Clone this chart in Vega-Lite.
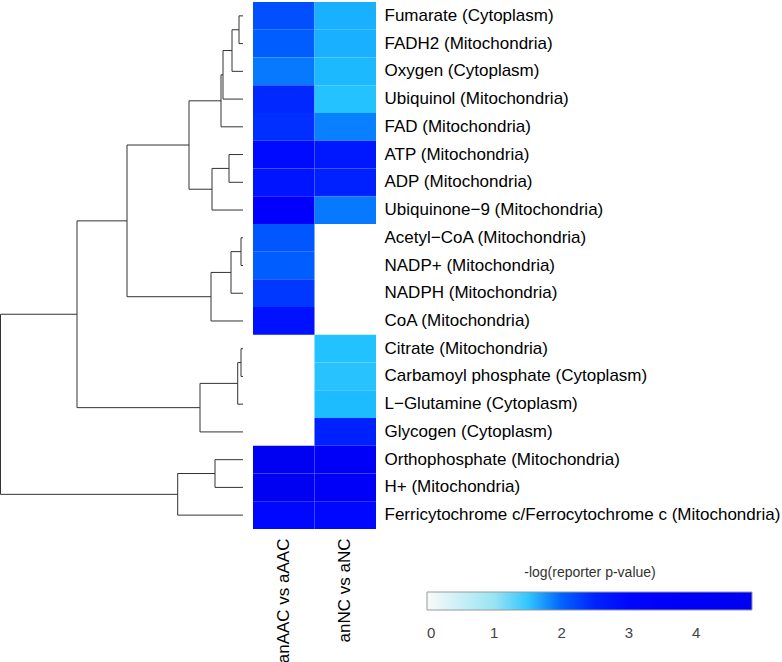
{
  "$schema": "https://vega.github.io/schema/vega-lite/v6.json",
  "padding": {"left": 0, "top": 2, "right": 0, "bottom": 0},
  "background": "white",
  "config": {
    "view": {"stroke": null},
    "font": "Liberation Sans"
  },
  "datasets": {
    "tree": [
      {"h": 4, "h2": 4, "r": 1, "r2": 2},
      {"h": 0, "h2": 4, "r": 1, "r2": 1},
      {"h": 0, "h2": 4, "r": 2, "r2": 2},
      {"h": 11, "h2": 11, "r": 1.5, "r2": 3},
      {"h": 4, "h2": 11, "r": 1.5, "r2": 1.5},
      {"h": 0, "h2": 11, "r": 3, "r2": 3},
      {"h": 20, "h2": 20, "r": 2.25, "r2": 4},
      {"h": 11, "h2": 20, "r": 2.25, "r2": 2.25},
      {"h": 0, "h2": 20, "r": 4, "r2": 4},
      {"h": 22, "h2": 22, "r": 3.125, "r2": 5},
      {"h": 20, "h2": 22, "r": 3.125, "r2": 3.125},
      {"h": 0, "h2": 22, "r": 5, "r2": 5},
      {"h": 14, "h2": 14, "r": 6, "r2": 7},
      {"h": 0, "h2": 14, "r": 6, "r2": 6},
      {"h": 0, "h2": 14, "r": 7, "r2": 7},
      {"h": 31, "h2": 31, "r": 6.5, "r2": 8},
      {"h": 14, "h2": 31, "r": 6.5, "r2": 6.5},
      {"h": 0, "h2": 31, "r": 8, "r2": 8},
      {"h": 54, "h2": 54, "r": 4.0625, "r2": 7.25},
      {"h": 22, "h2": 54, "r": 4.0625, "r2": 4.0625},
      {"h": 31, "h2": 54, "r": 7.25, "r2": 7.25},
      {"h": 2, "h2": 2, "r": 9, "r2": 10},
      {"h": 0, "h2": 2, "r": 9, "r2": 9},
      {"h": 0, "h2": 2, "r": 10, "r2": 10},
      {"h": 12, "h2": 12, "r": 9.5, "r2": 11},
      {"h": 2, "h2": 12, "r": 9.5, "r2": 9.5},
      {"h": 0, "h2": 12, "r": 11, "r2": 11},
      {"h": 32, "h2": 32, "r": 10.25, "r2": 12},
      {"h": 12, "h2": 32, "r": 10.25, "r2": 10.25},
      {"h": 0, "h2": 32, "r": 12, "r2": 12},
      {"h": 116, "h2": 116, "r": 5.65625, "r2": 11.125},
      {"h": 54, "h2": 116, "r": 5.65625, "r2": 5.65625},
      {"h": 32, "h2": 116, "r": 11.125, "r2": 11.125},
      {"h": 2, "h2": 2, "r": 13, "r2": 14},
      {"h": 0, "h2": 2, "r": 13, "r2": 13},
      {"h": 0, "h2": 2, "r": 14, "r2": 14},
      {"h": 5.3, "h2": 5.3, "r": 13.5, "r2": 15},
      {"h": 2, "h2": 5.3, "r": 13.5, "r2": 13.5},
      {"h": 0, "h2": 5.3, "r": 15, "r2": 15},
      {"h": 43, "h2": 43, "r": 14.25, "r2": 16},
      {"h": 5.3, "h2": 43, "r": 14.25, "r2": 14.25},
      {"h": 0, "h2": 43, "r": 16, "r2": 16},
      {"h": 166, "h2": 166, "r": 8.390625, "r2": 15.125},
      {"h": 116, "h2": 166, "r": 8.390625, "r2": 8.390625},
      {"h": 43, "h2": 166, "r": 15.125, "r2": 15.125},
      {"h": 28, "h2": 28, "r": 17, "r2": 18},
      {"h": 0, "h2": 28, "r": 17, "r2": 17},
      {"h": 0, "h2": 28, "r": 18, "r2": 18},
      {"h": 65.3, "h2": 65.3, "r": 17.5, "r2": 19},
      {"h": 28, "h2": 65.3, "r": 17.5, "r2": 17.5},
      {"h": 0, "h2": 65.3, "r": 19, "r2": 19},
      {"h": 242.5, "h2": 242.5, "r": 11.7578, "r2": 18.25},
      {"h": 166, "h2": 242.5, "r": 11.7578, "r2": 11.7578},
      {"h": 65.3, "h2": 242.5, "r": 18.25, "r2": 18.25}
    ],
    "cells": [
      {"metabolite": "Fumarate (Cytoplasm)", "comparison": "anAAC vs aAAC", "value": 2.15},
      {"metabolite": "Fumarate (Cytoplasm)", "comparison": "anNC vs aNC", "value": 1.67},
      {"metabolite": "FADH2 (Mitochondria)", "comparison": "anAAC vs aAAC", "value": 2.05},
      {"metabolite": "FADH2 (Mitochondria)", "comparison": "anNC vs aNC", "value": 1.67},
      {"metabolite": "Oxygen (Cytoplasm)", "comparison": "anAAC vs aAAC", "value": 1.91},
      {"metabolite": "Oxygen (Cytoplasm)", "comparison": "anNC vs aNC", "value": 1.63},
      {"metabolite": "Ubiquinol (Mitochondria)", "comparison": "anAAC vs aAAC", "value": 2.45},
      {"metabolite": "Ubiquinol (Mitochondria)", "comparison": "anNC vs aNC", "value": 1.57},
      {"metabolite": "FAD (Mitochondria)", "comparison": "anAAC vs aAAC", "value": 2.4},
      {"metabolite": "FAD (Mitochondria)", "comparison": "anNC vs aNC", "value": 1.88},
      {"metabolite": "ATP (Mitochondria)", "comparison": "anAAC vs aAAC", "value": 2.9},
      {"metabolite": "ATP (Mitochondria)", "comparison": "anNC vs aNC", "value": 2.57},
      {"metabolite": "ADP (Mitochondria)", "comparison": "anAAC vs aAAC", "value": 2.6},
      {"metabolite": "ADP (Mitochondria)", "comparison": "anNC vs aNC", "value": 2.5},
      {"metabolite": "Ubiquinone−9 (Mitochondria)", "comparison": "anAAC vs aAAC", "value": 3.5},
      {"metabolite": "Ubiquinone−9 (Mitochondria)", "comparison": "anNC vs aNC", "value": 1.91},
      {"metabolite": "Acetyl−CoA (Mitochondria)", "comparison": "anAAC vs aAAC", "value": 2.1},
      {"metabolite": "NADP+ (Mitochondria)", "comparison": "anAAC vs aAAC", "value": 2.05},
      {"metabolite": "NADPH (Mitochondria)", "comparison": "anAAC vs aAAC", "value": 2.33},
      {"metabolite": "CoA (Mitochondria)", "comparison": "anAAC vs aAAC", "value": 2.7},
      {"metabolite": "Citrate (Mitochondria)", "comparison": "anNC vs aNC", "value": 1.58},
      {"metabolite": "Carbamoyl phosphate (Cytoplasm)", "comparison": "anNC vs aNC", "value": 1.55},
      {"metabolite": "L−Glutamine (Cytoplasm)", "comparison": "anNC vs aNC", "value": 1.62},
      {"metabolite": "Glycogen (Cytoplasm)", "comparison": "anNC vs aNC", "value": 2.5},
      {"metabolite": "Orthophosphate (Mitochondria)", "comparison": "anAAC vs aAAC", "value": 4.5},
      {"metabolite": "Orthophosphate (Mitochondria)", "comparison": "anNC vs aNC", "value": 4.0},
      {"metabolite": "H+ (Mitochondria)", "comparison": "anAAC vs aAAC", "value": 4.5},
      {"metabolite": "H+ (Mitochondria)", "comparison": "anNC vs aNC", "value": 4.0},
      {"metabolite": "Ferricytochrome c/Ferrocytochrome c (Mitochondria)", "comparison": "anAAC vs aAAC", "value": 3.0},
      {"metabolite": "Ferricytochrome c/Ferrocytochrome c (Mitochondria)", "comparison": "anNC vs aNC", "value": 3.0}
    ]
  },
  "spacing": 9,
  "hconcat": [
    {
      "width": 243,
      "height": 527,
      "data": {"name": "tree"},
      "mark": {"type": "rule", "color": "#333333", "strokeWidth": 1},
      "encoding": {
        "x": {"field": "h", "type": "quantitative", "scale": {"domain": [0, 243], "reverse": true, "nice": false, "zero": false}, "axis": null},
        "x2": {"field": "h2"},
        "y": {"field": "r", "type": "quantitative", "scale": {"domain": [0.5, 19.5], "reverse": true, "nice": false, "zero": false}, "axis": null},
        "y2": {"field": "r2"}
      }
    },
    {
      "width": 123,
      "height": 527,
      "data": {"name": "cells"},
      "mark": {"type": "rect"},
      "encoding": {
        "x": {
          "field": "comparison", "type": "nominal",
          "sort": ["anAAC vs aAAC", "anNC vs aNC"],
          "scale": {"paddingInner": 0, "paddingOuter": 0},
          "axis": {"title": null, "orient": "bottom", "labelAngle": 270, "labelFontSize": 17, "labelColor": "#000000", "ticks": false, "domain": false, "labelPadding": 9, "labelLimit": 300}
        },
        "y": {
          "field": "metabolite", "type": "nominal",
          "sort": ["Fumarate (Cytoplasm)", "FADH2 (Mitochondria)", "Oxygen (Cytoplasm)", "Ubiquinol (Mitochondria)", "FAD (Mitochondria)", "ATP (Mitochondria)", "ADP (Mitochondria)", "Ubiquinone−9 (Mitochondria)", "Acetyl−CoA (Mitochondria)", "NADP+ (Mitochondria)", "NADPH (Mitochondria)", "CoA (Mitochondria)", "Citrate (Mitochondria)", "Carbamoyl phosphate (Cytoplasm)", "L−Glutamine (Cytoplasm)", "Glycogen (Cytoplasm)", "Orthophosphate (Mitochondria)", "H+ (Mitochondria)", "Ferricytochrome c/Ferrocytochrome c (Mitochondria)"],
          "scale": {"domain": ["Fumarate (Cytoplasm)", "FADH2 (Mitochondria)", "Oxygen (Cytoplasm)", "Ubiquinol (Mitochondria)", "FAD (Mitochondria)", "ATP (Mitochondria)", "ADP (Mitochondria)", "Ubiquinone−9 (Mitochondria)", "Acetyl−CoA (Mitochondria)", "NADP+ (Mitochondria)", "NADPH (Mitochondria)", "CoA (Mitochondria)", "Citrate (Mitochondria)", "Carbamoyl phosphate (Cytoplasm)", "L−Glutamine (Cytoplasm)", "Glycogen (Cytoplasm)", "Orthophosphate (Mitochondria)", "H+ (Mitochondria)", "Ferricytochrome c/Ferrocytochrome c (Mitochondria)"], "paddingInner": 0, "paddingOuter": 0},
          "axis": {"title": null, "orient": "right", "labelFontSize": 17, "labelColor": "#000000", "ticks": false, "domain": false, "labelPadding": 8, "labelLimit": 600}
        },
        "color": {
          "field": "value", "type": "quantitative",
          "scale": {"domain": [0, 1, 1.6, 2, 2.6, 3.2, 4.83], "range": ["#fafafa", "#98e4f4", "#1ec0ff", "#0064ff", "#0014ff", "#0000ff", "#0000f0"], "interpolate": "rgb"},
          "legend": {
            "title": "-log(reporter p-value)",
            "orient": "none",
            "direction": "horizontal",
            "legendX": 427,
            "legendY": 564,
            "gradientLength": 325,
            "gradientThickness": 18,
            "gradientStrokeColor": "#999999",
            "gradientStrokeWidth": 1,
            "values": [0, 1, 2, 3, 4],
            "labelFontSize": 15,
            "labelColor": "#444444",
            "labelOffset": 16,
            "titleFontSize": 14,
            "titleFontWeight": "normal",
            "titleColor": "#333333",
            "titleAnchor": "middle",
            "titlePadding": 12
          }
        }
      }
    }
  ]
}
